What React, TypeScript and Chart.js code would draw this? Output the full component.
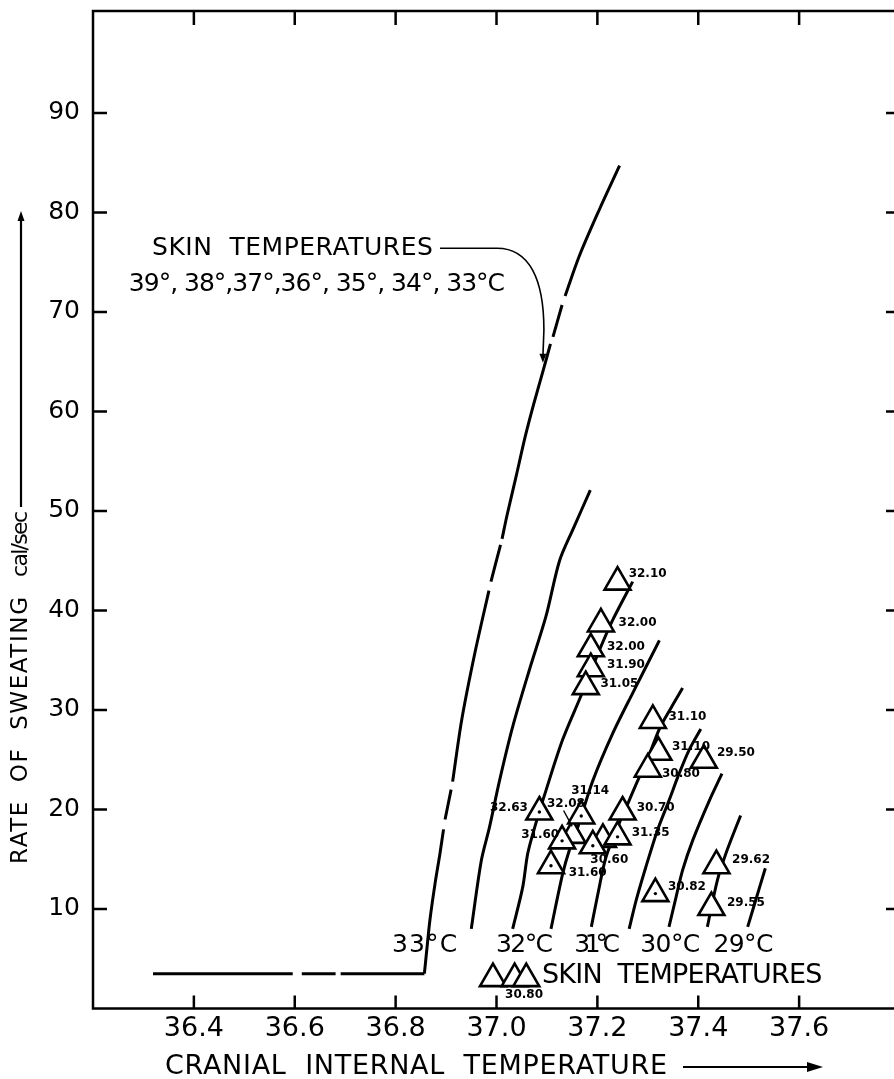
import React, { useEffect, useRef } from 'react';
import { Chart, registerables } from 'chart.js';

Chart.register(...registerables);

const FONT = '"DejaVu Sans", sans-serif';

// axis ticks
const xTicks = [36.4, 36.6, 36.8, 37.0, 37.2, 37.4, 37.6];
const yTicks = [10, 20, 30, 40, 50, 60, 70, 80, 90];

type Pair = [number, number | null];

// 39°..33°C envelope: flat base, then the rising branch; a null y is a break in the line
const skin33Flat: Pair[] = [
  [36.319, 3.5], [36.596, 3.5], [36.605, null], [36.614, 3.5], [36.681, 3.5], [36.686, null],
  [36.691, 3.5], [36.857, 3.5],
];
const skin33Rise: Pair[] = [
  [36.857, 3.5], [36.863, 6.5], [36.868, 8.9], [36.878, 12.5], [36.888, 15.6],
  [36.895, 18.0], [36.896, null], [36.898, 19.0], [36.910, 22.0], [36.911, null], [36.913, 22.8],
  [36.931, 29.0], [36.957, 35.7], [36.985, 42.0], [36.987, null], [36.989, 42.9], [37.008, 46.6],
  [37.009, null], [37.011, 47.2], [37.021, 49.6], [37.039, 53.5], [37.057, 57.5], [37.074, 60.8],
  [37.093, 64.2], [37.107, 66.8], [37.109, null], [37.112, 67.5], [37.130, 70.7], [37.132, null],
  [37.136, 71.6], [37.164, 75.6], [37.204, 80.3], [37.244, 84.7],
];

const skin325: Pair[] = [
  [36.950, 8.0], [36.970, 14.9], [36.986, 18.2], [37.006, 22.9], [37.032, 28.3],
  [37.065, 34.0], [37.098, 39.4], [37.125, 45.0], [37.152, 48.2], [37.186, 52.1],
];
const skin32: Pair[] = [
  [37.032, 8.0], [37.052, 12.2], [37.062, 15.6], [37.078, 18.6], [37.098, 21.9], [37.131, 27.0],
  [37.164, 31.0], [37.178, 32.7], [37.204, 36.0], [37.230, 39.0], [37.270, 42.9],
];
const skin315: Pair[] = [
  [37.108, 8.0], [37.131, 13.5], [37.145, 16.0], [37.161, 18.2], [37.191, 22.9],
  [37.230, 27.6], [37.270, 31.7], [37.323, 37.0],
];
const skin31: Pair[] = [
  [37.188, 8.2], [37.201, 11.5], [37.217, 15.2], [37.244, 18.7], [37.263, 20.9],
  [37.280, 22.9], [37.296, 24.6], [37.323, 28.1], [37.346, 30.2], [37.369, 32.2],
];
const skin305: Pair[] = [
  [37.263, 8.0], [37.277, 10.9], [37.296, 14.2], [37.319, 17.9], [37.342, 20.9],
  [37.362, 23.6], [37.382, 26.0], [37.405, 28.1],
];
const skin30: Pair[] = [
  [37.342, 8.2], [37.356, 11.2], [37.369, 13.9], [37.389, 16.9], [37.422, 20.9], [37.447, 23.6],
];
const skin295: Pair[] = [[37.418, 8.2], [37.438, 12.9], [37.455, 15.6], [37.484, 19.4]];
const skin29: Pair[] = [[37.498, 8.2], [37.514, 10.9], [37.533, 14.1]];

const curves = [skin33Flat, skin33Rise, skin325, skin32, skin315, skin31, skin305, skin30, skin295, skin29];

// observations (triangle centres), back ones first
const triangles: [number, number][] = [
  [36.993, 3.0], [37.036, 3.0], [37.059, 3.0],
  [37.240, 42.85], [37.207, 38.65], [37.187, 36.15], [37.187, 34.15], [37.177, 32.35],
  [37.151, 17.4], [37.211, 17.0], [37.085, 19.75], [37.168, 19.35], [37.130, 16.85],
  [37.191, 16.35], [37.240, 17.25], [37.250, 19.75], [37.108, 14.35],
  [37.310, 28.95], [37.321, 25.75], [37.300, 24.05], [37.411, 24.95], [37.315, 11.55],
  [37.436, 14.35], [37.426, 10.15],
];
// triangles that carry a centre dot
const dotted: [number, number][] = [
  [37.085, 19.75], [37.168, 19.35], [37.130, 16.85], [37.191, 16.35],
  [37.240, 17.25], [37.108, 14.35], [37.315, 11.55],
];

// skin temperature reading beside each triangle: text, left x, middle y
const readings: [string, number, number][] = [
  ['32.10', 37.262, 43.67], ['32.00', 37.242, 38.77], ['32.00', 37.219, 36.36],
  ['31.90', 37.219, 34.52], ['31.05', 37.206, 32.58], ['31.14', 37.148, 21.89],
  ['32.63', 36.987, 20.12], ['32.08', 37.100, 20.52], ['31.60', 37.049, 17.44],
  ['30.70', 37.278, 20.12], ['31.35', 37.268, 17.61], ['30.60', 37.186, 14.92],
  ['31.60', 37.143, 13.59], ['31.10', 37.341, 29.33], ['31.10', 37.348, 26.25],
  ['30.80', 37.328, 23.57], ['29.50', 37.437, 25.65], ['30.82', 37.340, 12.18],
  ['29.62', 37.467, 14.92], ['29.55', 37.457, 10.57], ['30.80', 37.017, 1.36],
];

// larger notes: text, left x, right x, middle y, font size
const notes: [string, number, number, number, number][] = [
  ['SKIN  TEMPERATURES', 36.317, 36.874, 76.4, 25],
  ['39°, 38°,37°,36°, 35°, 34°, 33°C', 36.271, 37.017, 72.8, 25],
  ['33°C', 36.793, 36.922, 6.3, 25],
  ['32°C', 36.999, 37.112, 6.3, 25],
  ['31°C', 37.154, 37.245, 6.3, 25],
  ['30°C', 37.285, 37.404, 6.3, 25],
  ['29°C', 37.430, 37.549, 6.3, 25],
  ['SKIN  TEMPERATURES', 37.090, 37.646, 3.3, 27],
];

// curved leader from the upper note to the envelope
const leader: [number, number][] = [
  [36.888, 76.4], [37.001, 76.4], [37.066, 76.4], [37.094, 73.2], [37.094, 68.2], [37.092, 64.9],
];
const leaderSmall: [number, number][] = [[37.133, 19.9], [37.150, 18.3]];

function fitText(ctx: CanvasRenderingContext2D, text: string, x: number, y: number, width: number) {
  (ctx as any).letterSpacing = '0px';
  const w = ctx.measureText(text).width;
  const ls = text.length > 1 ? (width - w) / (text.length - 1) : 0;
  (ctx as any).letterSpacing = `${ls}px`;
  ctx.fillText(text, x, y);
  (ctx as any).letterSpacing = '0px';
}

function arrowHead(ctx: CanvasRenderingContext2D, x: number, y: number, ang: number, len: number, half: number) {
  ctx.save();
  ctx.translate(x, y);
  ctx.rotate(ang);
  ctx.beginPath();
  ctx.moveTo(0, 0);
  ctx.lineTo(-len, -half);
  ctx.lineTo(-len, half);
  ctx.closePath();
  ctx.fill();
  ctx.restore();
}

// keep the plot area where the reference has it
const noPadding = (s: any) => {
  s.paddingTop = 0;
  s.paddingBottom = 0;
  s.paddingLeft = 0;
  s.paddingRight = 0;
};

const framePlugin = {
  id: 'frame',
  beforeDatasetsDraw(chart: any) {
    const { ctx, chartArea: a, scales } = chart;
    ctx.save();
    ctx.strokeStyle = '#000';
    ctx.lineWidth = 2.5;
    ctx.strokeRect(a.left, a.top, a.right - a.left, a.bottom - a.top);
    ctx.beginPath();
    xTicks.forEach((v) => {
      const px = scales.x.getPixelForValue(v);
      ctx.moveTo(px, a.bottom); ctx.lineTo(px, a.bottom - 13);
      ctx.moveTo(px, a.top); ctx.lineTo(px, a.top + 14);
    });
    yTicks.forEach((v) => {
      const py = scales.y.getPixelForValue(v);
      ctx.moveTo(a.left, py); ctx.lineTo(a.left + 14, py);
      ctx.moveTo(a.right, py); ctx.lineTo(a.right - 14, py);
    });
    ctx.stroke();
    ctx.restore();
  },
  afterDraw(chart: any) {
    const { ctx, scales } = chart;
    const X = (v: number) => scales.x.getPixelForValue(v);
    const Y = (v: number) => scales.y.getPixelForValue(v);
    ctx.save();
    ctx.fillStyle = '#000';
    ctx.strokeStyle = '#000';
    ctx.textBaseline = 'middle';
    ctx.textAlign = 'left';

    ctx.font = `bold 12px ${FONT}`;
    readings.forEach(([t, x, y]) => ctx.fillText(t, X(x), Y(y)));

    notes.forEach(([t, x0, x1, y, size]) => {
      ctx.font = `${size}px ${FONT}`;
      fitText(ctx, t, X(x0), Y(y), X(x1) - X(x0));
    });

    // leaders
    ctx.lineWidth = 1.6;
    ctx.beginPath();
    ctx.moveTo(X(leader[0][0]), Y(leader[0][1]));
    ctx.lineTo(X(leader[1][0]), Y(leader[1][1]));
    ctx.bezierCurveTo(X(leader[2][0]), Y(leader[2][1]), X(leader[3][0]), Y(leader[3][1]), X(leader[4][0]), Y(leader[4][1]));
    ctx.lineTo(X(leader[5][0]), Y(leader[5][1]) - 6);
    ctx.stroke();
    arrowHead(ctx, X(leader[5][0]), Y(leader[5][1]), Math.PI / 2, 9, 3.5);
    ctx.lineWidth = 1.4;
    ctx.beginPath();
    ctx.moveTo(X(leaderSmall[0][0]), Y(leaderSmall[0][1]));
    ctx.lineTo(X(leaderSmall[1][0]), Y(leaderSmall[1][1]));
    ctx.stroke();

    // x title with arrow
    ctx.font = `27px ${FONT}`;
    fitText(ctx, 'CRANIAL  INTERNAL  TEMPERATURE', 165, 1067, 502);
    ctx.lineWidth = 2.2;
    ctx.beginPath();
    ctx.moveTo(683, 1067);
    ctx.lineTo(812, 1067);
    ctx.stroke();
    arrowHead(ctx, 823, 1067, 0, 16, 5);

    // y title with arrow
    ctx.save();
    ctx.translate(21, 0);
    ctx.rotate(-Math.PI / 2);
    ctx.font = `23px ${FONT}`;
    fitText(ctx, 'RATE  OF  SWEATING', -864, 0, 267);
    ctx.font = `22px ${FONT}`;
    fitText(ctx, 'cal/sec', -577, 0, 66);
    ctx.lineWidth = 2.2;
    ctx.beginPath();
    ctx.moveTo(-507, 0);
    ctx.lineTo(-218, 0);
    ctx.stroke();
    arrowHead(ctx, -211, 0, 0, 10, 3.5);
    ctx.restore();

    ctx.restore();
  },
};

export default function App() {
  const ref = useRef<HTMLCanvasElement>(null);

  useEffect(() => {
    if (!ref.current) return;
    const toXY = (arr: Pair[]) => arr.map(([x, y]) => ({ x, y }));
    const chart = new Chart(ref.current, {
      type: 'scatter',
      data: {
        datasets: [
          {
            data: dotted.map(([x, y]) => ({ x, y })),
            pointStyle: 'circle',
            pointRadius: 1.7,
            backgroundColor: '#000',
            borderWidth: 0,
            order: 0,
          },
          {
            data: triangles.map(([x, y]) => ({ x, y })),
            pointStyle: 'triangle',
            pointRadius: 15,
            borderWidth: 2.6,
            borderColor: '#000',
            backgroundColor: '#fff',
            order: 1,
          },
          ...curves.map((c) => ({
            data: toXY(c),
            showLine: true,
            spanGaps: false,
            borderColor: '#000',
            borderWidth: 3,
            borderCapStyle: 'butt' as const,
            pointRadius: 0,
            tension: c === skin33Flat ? 0 : 0.3,
            order: 2,
          })),
        ],
      } as any,
      options: {
        responsive: false,
        animation: false,
        events: [],
        layout: { autoPadding: false, padding: { left: 0, right: 4, top: 11, bottom: 0 } },
        plugins: { legend: { display: false }, tooltip: { enabled: false } },
        scales: {
          x: {
            type: 'linear',
            min: 36.2,
            max: 37.8,
            afterBuildTicks: (s: any) => { s.ticks = xTicks.map((value) => ({ value })); },
            afterFit: (s: any) => { s.height = 70.5; noPadding(s); },
            ticks: {
              callback: (v: any) => Number(v).toFixed(1),
              font: { family: FONT, size: 27 },
              color: '#000',
              padding: 4,
              maxRotation: 0,
              autoSkip: false,
            },
            grid: { display: false, drawTicks: false },
            border: { display: false },
          },
          y: {
            type: 'linear',
            min: 0,
            max: 100.25,
            afterBuildTicks: (s: any) => { s.ticks = yTicks.map((value) => ({ value })); },
            afterFit: (s: any) => { s.width = 93; noPadding(s); },
            ticks: {
              callback: (v: any) => String(v),
              font: { family: FONT, size: 25 },
              color: '#000',
              padding: 13,
              autoSkip: false,
            },
            grid: { display: false, drawTicks: false },
            border: { display: false },
          },
        },
      },
      plugins: [framePlugin],
    });
    return () => chart.destroy();
  }, []);

  return (
    <div style={{ position: 'fixed', left: 0, top: 0, width: 894, height: 1079, overflow: 'hidden', background: '#fff' }}>
      <canvas ref={ref} width={904} height={1079} style={{ display: 'block', width: 904, height: 1079 }} />
    </div>
  );
}
